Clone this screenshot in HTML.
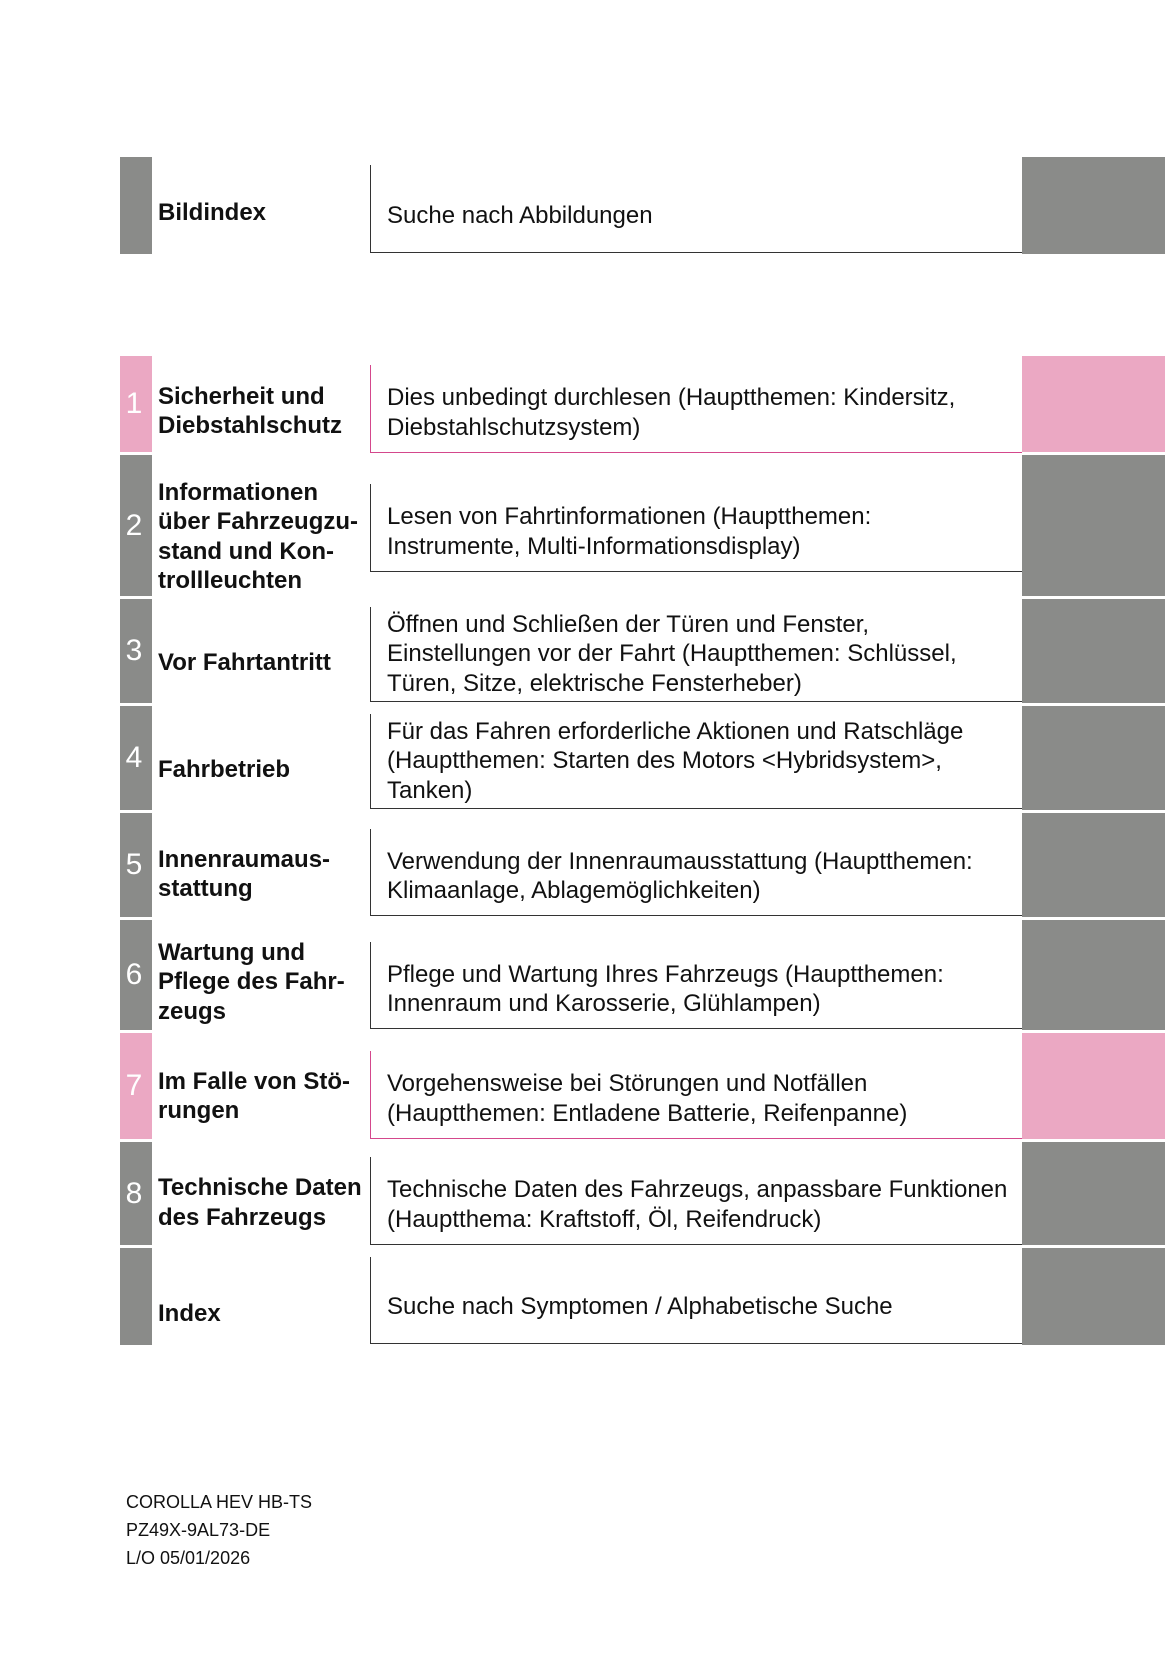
<!DOCTYPE html>
<html><head><meta charset="utf-8"><style>
body{margin:0;width:1165px;height:1653px;background:#fff;position:relative;font-family:"Liberation Sans",sans-serif;color:#111;overflow:hidden}
.bar{position:absolute;left:120px;width:32px;background:#8a8b89;color:#fff;font-size:30px;display:flex;align-items:center;justify-content:center;padding-right:4px;box-sizing:border-box}
.tab{position:absolute;left:1022px;width:143px;background:#8a8b89}
.p{background:#eba8c3}
.t{position:absolute;left:158px;width:210px;font-weight:bold;font-size:24px;line-height:29.5px;display:flex;align-items:center;white-space:nowrap;padding-top:14px;box-sizing:border-box}
.d{position:absolute;left:370px;width:652px;border-left:1.5px solid #333;border-bottom:1.5px solid #333;font-size:24px;line-height:29.5px;display:flex;align-items:center;padding-left:16px;padding-top:8px;box-sizing:border-box;white-space:nowrap}
.d3{padding-top:0}
.pk{border-color:#d4478c}
.f{position:absolute;left:126px;font-size:18px;line-height:28px;top:1488px}
</style></head><body>

<div class="bar" style="top:157px;height:97px"></div>
<div class="tab" style="top:157px;height:97px"></div>
<div class="t" style="top:157px;height:97px">Bildindex</div>
<div class="d" style="top:165px;height:88px;padding-top:14px">Suche nach Abbildungen</div>

<div class="bar p" style="top:356px;height:96px">1</div>
<div class="tab p" style="top:356px;height:96px"></div>
<div class="t" style="top:356px;height:96px">Sicherheit und<br>Diebstahlschutz</div>
<div class="d pk" style="top:365px;height:88px">Dies unbedingt durchlesen (Hauptthemen: Kindersitz,<br>Diebstahlschutzsystem)</div>

<div class="bar" style="top:455px;height:141px">2</div>
<div class="tab" style="top:455px;height:141px"></div>
<div class="t" style="top:459px;height:141px">Informationen<br>über Fahrzeugzu-<br>stand und Kon-<br>trollleuchten</div>
<div class="d" style="top:484px;height:88px">Lesen von Fahrtinformationen (Hauptthemen:<br>Instrumente, Multi-Informationsdisplay)</div>

<div class="bar" style="top:599px;height:104px">3</div>
<div class="tab" style="top:599px;height:104px"></div>
<div class="t" style="top:609px;height:94px">Vor Fahrtantritt</div>
<div class="d d3" style="top:607px;height:95px">Öffnen und Schließen der Türen und Fenster,<br>Einstellungen vor der Fahrt (Hauptthemen: Schlüssel,<br>Türen, Sitze, elektrische Fensterheber)</div>

<div class="bar" style="top:706px;height:104px">4</div>
<div class="tab" style="top:706px;height:104px"></div>
<div class="t" style="top:716px;height:94px">Fahrbetrieb</div>
<div class="d d3" style="top:714px;height:95px">Für das Fahren erforderliche Aktionen und Ratschläge<br>(Hauptthemen: Starten des Motors &lt;Hybridsystem&gt;,<br>Tanken)</div>

<div class="bar" style="top:813px;height:104px">5</div>
<div class="tab" style="top:813px;height:104px"></div>
<div class="t" style="top:815px;height:104px">Innenraumaus-<br>stattung</div>
<div class="d" style="top:829px;height:87px">Verwendung der Innenraumausstattung (Hauptthemen:<br>Klimaanlage, Ablagemöglichkeiten)</div>

<div class="bar" style="top:920px;height:110px">6</div>
<div class="tab" style="top:920px;height:110px"></div>
<div class="t" style="top:920px;height:110px">Wartung und<br>Pflege des Fahr-<br>zeugs</div>
<div class="d" style="top:942px;height:87px">Pflege und Wartung Ihres Fahrzeugs (Hauptthemen:<br>Innenraum und Karosserie, Glühlampen)</div>

<div class="bar p" style="top:1033px;height:106px">7</div>
<div class="tab p" style="top:1033px;height:106px"></div>
<div class="t" style="top:1036px;height:106px">Im Falle von Stö-<br>rungen</div>
<div class="d pk" style="top:1051px;height:88px">Vorgehensweise bei Störungen und Notfällen<br>(Hauptthemen: Entladene Batterie, Reifenpanne)</div>

<div class="bar" style="top:1142px;height:103px">8</div>
<div class="tab" style="top:1142px;height:103px"></div>
<div class="t" style="top:1144px;height:103px">Technische Daten<br>des Fahrzeugs</div>
<div class="d" style="top:1157px;height:88px">Technische Daten des Fahrzeugs, anpassbare Funktionen<br>(Hauptthema: Kraftstoff, Öl, Reifendruck)</div>

<div class="bar" style="top:1248px;height:97px"></div>
<div class="tab" style="top:1248px;height:97px"></div>
<div class="t" style="top:1258px;height:97px">Index</div>
<div class="d" style="top:1257px;height:87px;padding-top:14px">Suche nach Symptomen / Alphabetische Suche</div>

<div class="f">COROLLA HEV HB-TS<br>PZ49X-9AL73-DE<br>L/O 05/01/2026</div>
</body></html>
